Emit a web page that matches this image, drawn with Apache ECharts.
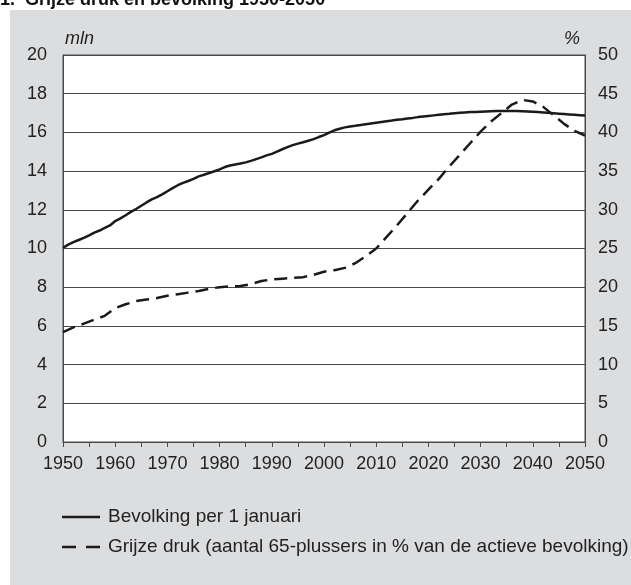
<!DOCTYPE html>
<html>
<head>
<meta charset="utf-8">
<script src="https://cdn.jsdelivr.net/npm/echarts@6/dist/echarts.min.js"></script>
<style>
  html, body { margin: 0; padding: 0; background: #fff; }
  #wrap { position: relative; width: 631px; height: 585px; }
  #panel { position: absolute; left: 10px; top: 10px; width: 621px; height: 575px; background: #dcdddf; }
  #chart { position: absolute; left: 0; top: 0; width: 631px; height: 585px; }
</style>
</head>
<body>
<div id="wrap">
  <div id="panel"></div>
  <div id="chart"></div>
</div>
<script>
// bevolking per 1 januari (mln), jaarlijks 1950-2050
const popStart = 1950;
const population = [
  10.03, 10.20, 10.33, 10.44, 10.55, 10.68, 10.82, 10.93, 11.06, 11.19,
  11.42, 11.56, 11.72, 11.89, 12.04, 12.21, 12.38, 12.54, 12.66, 12.80,
  12.96, 13.12, 13.27, 13.39, 13.49, 13.60, 13.73, 13.81, 13.90, 13.99,
  14.09, 14.21, 14.29, 14.34, 14.39, 14.45, 14.53, 14.62, 14.71, 14.81,
  14.89, 15.01, 15.13, 15.24, 15.34, 15.42, 15.49, 15.57, 15.65, 15.76,
  15.86, 15.99, 16.11, 16.19, 16.26, 16.31, 16.34, 16.38, 16.42, 16.46,
  16.50, 16.54, 16.58, 16.61, 16.65, 16.68, 16.72, 16.75, 16.79, 16.82,
  16.85, 16.88, 16.91, 16.94, 16.96, 16.99, 17.01, 17.03, 17.05, 17.06,
  17.07, 17.08, 17.09, 17.10, 17.10, 17.10, 17.10, 17.10, 17.09, 17.08,
  17.07, 17.05, 17.03, 17.01, 16.99, 16.97, 16.95, 16.93, 16.91, 16.89,
  16.87
];

// grijze druk (%), om de twee jaar 1950-2050
const greyYears = [];
for (let y = 1950; y <= 2050; y += 2) greyYears.push(y);
const greyPressure = [
  14.2, 14.8, 15.3, 15.8, 16.3, 17.3, 17.8, 18.2, 18.4, 18.6,
  18.9, 19.1, 19.3, 19.5, 19.8, 20.0, 20.1, 20.15, 20.4, 20.8,
  21.0, 21.1, 21.2, 21.3, 21.6, 22.0, 22.2, 22.5, 23.1, 24.0,
  25.0, 26.5, 28.0, 29.6, 31.2, 32.6, 34.0, 35.6, 37.1, 38.6,
  40.1, 41.4, 42.5, 43.6, 44.2, 44.0, 43.3, 42.2, 41.1, 40.2,
  39.6
];

const seriesNames = [
  'Bevolking per 1 januari',
  'Grijze druk (aantal 65-plussers in % van de actieve bevolking)'
];

const font = 'Liberation Sans, Arial, sans-serif';
const ink = '#1a1a1a';
const gridColor = '#4a4a4a';
const dash = [13, 7];

// legenda: zelf getekend, zodat de streepjes kloppen
const legendRows = [
  { y: 517, dashed: false },
  { y: 547, dashed: true }
];
const legendGraphics = [];
legendRows.forEach((row, i) => {
  legendGraphics.push({
    type: 'line',
    shape: { x1: 62, y1: row.y, x2: 100, y2: row.y },
    style: { stroke: ink, lineWidth: 2.5, lineDash: row.dashed ? [14, 10] : null }
  });
  legendGraphics.push({
    type: 'text',
    x: 108,
    y: row.y,
    style: {
      text: seriesNames[i],
      font: '19px ' + font,
      fill: '#222',
      verticalAlign: 'middle'
    }
  });
});

const chart = echarts.init(document.getElementById('chart'));
const option = {
  animation: false,
  textStyle: { fontFamily: font },
  title: {
    text: '1.  Grijze druk en bevolking 1950-2050',
    left: 0,
    top: -9,
    padding: 0,
    textStyle: { fontFamily: font, fontSize: 18, fontWeight: 'bold', color: '#111' }
  },
  grid: {
    left: 63, right: 46, top: 55, bottom: 143,
    show: true,
    backgroundColor: '#fff',
    borderColor: gridColor,
    borderWidth: 1
  },
  graphic: legendGraphics,
  xAxis: {
    type: 'value',
    min: 1950,
    max: 2050,
    interval: 5,
    axisLine: { show: true, lineStyle: { color: gridColor, width: 1 } },
    axisTick: { show: true, length: 5, lineStyle: { color: gridColor } },
    splitLine: { show: false },
    axisLabel: {
      fontSize: 18,
      color: '#222',
      margin: 13,
      formatter: v => (v % 10 === 0 ? String(v) : '')
    }
  },
  yAxis: [
    {
      type: 'value',
      min: 0,
      max: 20,
      interval: 2,
      name: 'mln',
      nameLocation: 'end',
      nameGap: 7,
      nameTextStyle: { fontFamily: font, fontSize: 18, fontStyle: 'italic', color: '#222', align: 'left', padding: [0, 0, 0, 2] },
      axisLine: { show: true, lineStyle: { color: gridColor } },
      axisTick: { show: false },
      splitLine: { show: true, lineStyle: { color: gridColor, width: 1 } },
      axisLabel: { fontSize: 18, color: '#222', margin: 16 }
    },
    {
      type: 'value',
      min: 0,
      max: 50,
      interval: 5,
      position: 'right',
      name: '%',
      nameLocation: 'end',
      nameGap: 7,
      nameTextStyle: { fontFamily: font, fontSize: 18, fontStyle: 'italic', color: '#222', align: 'right', padding: [0, 5, 0, 0] },
      axisLine: { show: true, lineStyle: { color: gridColor } },
      axisTick: { show: false },
      splitLine: { show: false },
      axisLabel: { fontSize: 18, color: '#222', margin: 13 }
    }
  ],
  series: [
    {
      name: seriesNames[0],
      type: 'line',
      yAxisIndex: 0,
      symbol: 'none',
      lineStyle: { color: ink, width: 2.5 },
      data: population.map((v, i) => [popStart + i, v])
    },
    {
      name: seriesNames[1],
      type: 'line',
      yAxisIndex: 1,
      symbol: 'none',
      lineStyle: { color: ink, width: 2.5, type: dash },
      data: greyPressure.map((v, i) => [greyYears[i], v])
    }
  ]
};
chart.setOption(option);
</script>
</body>
</html>
